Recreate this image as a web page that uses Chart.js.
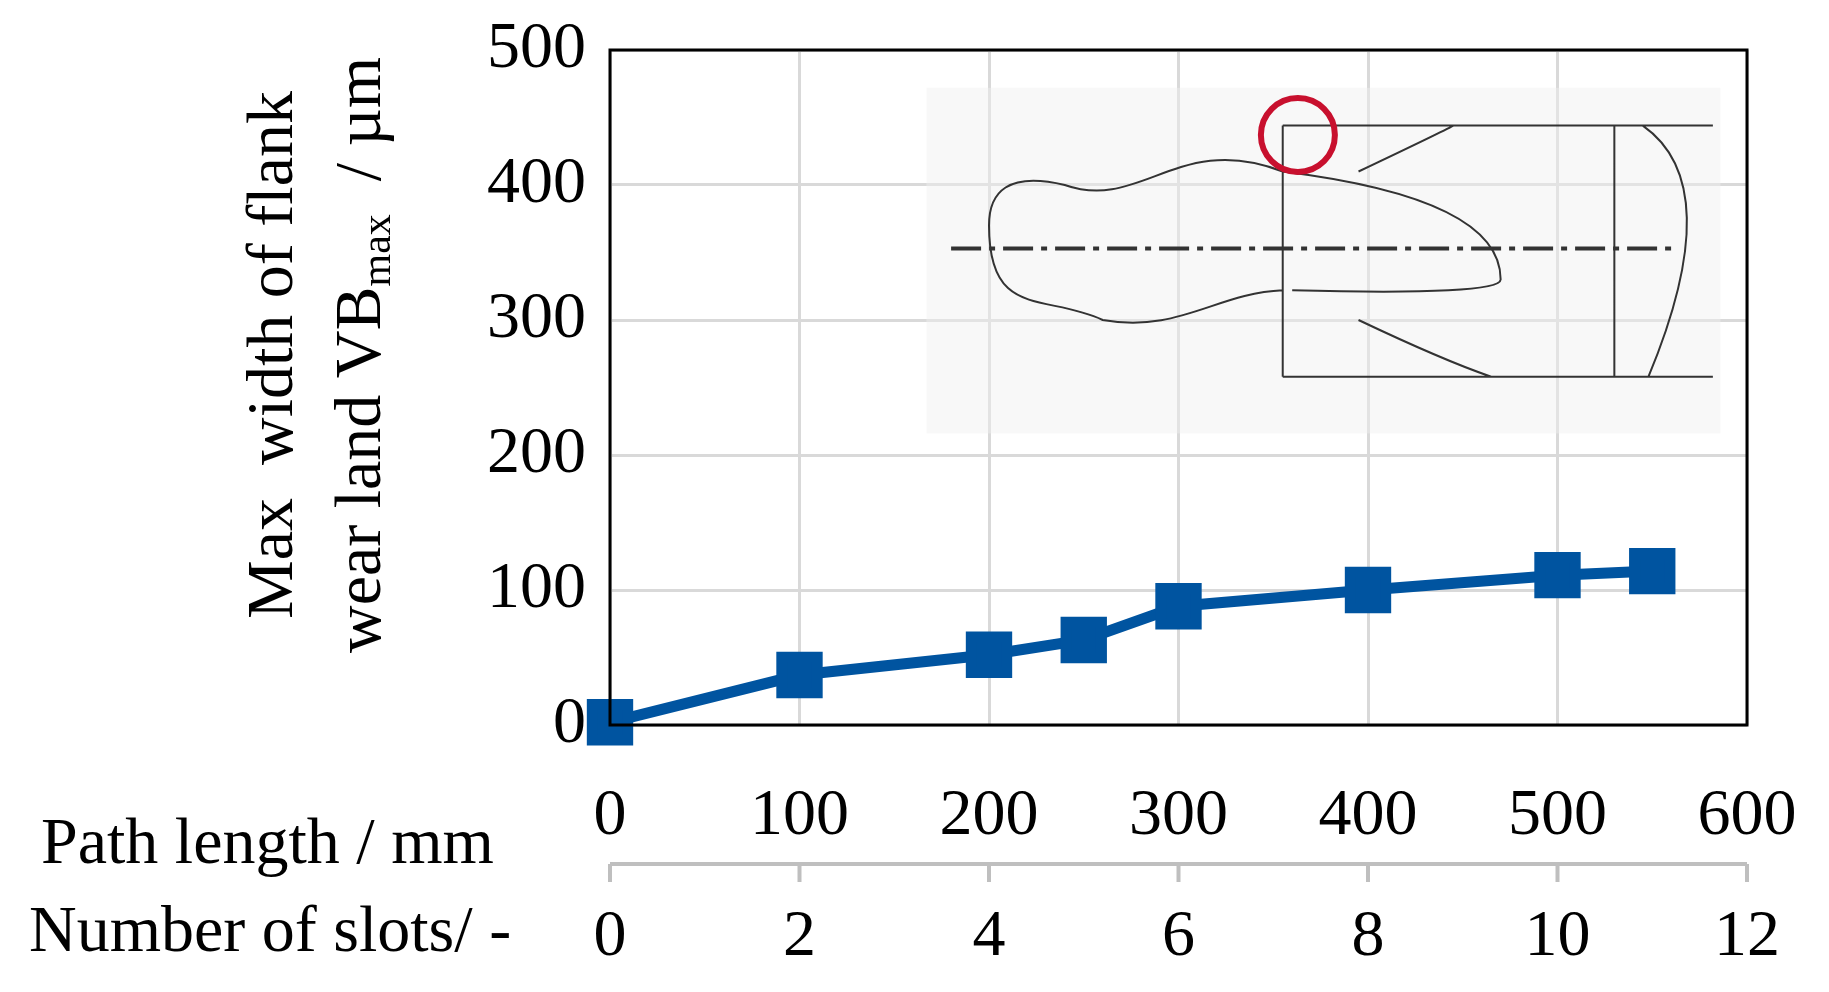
<!DOCTYPE html>
<html><head><meta charset="utf-8">
<script src="https://cdn.jsdelivr.net/npm/chart.js@4"></script>
<style>html,body{margin:0;padding:0;background:#fff}#w{width:1829px;height:992px}</style>
</head><body><div id="w"><canvas id="c"></canvas></div>
<script>
const pathLength = [0, 100, 200, 250, 300, 400, 500, 550];
const vbMax = [2, 37, 52, 63, 88, 100, 111, 114];
const slotTicks = [0, 2, 4, 6, 8, 10, 12];
const mmPerSlot = 50;
const FONT = '"Liberation Serif", "Times New Roman", serif';
const FS = 66;

const deco = {
  id: 'deco',
  beforeDatasetsDraw(ch) {
    const {ctx, chartArea: a, scales: {x, y}} = ch;
    const X = v => x.getPixelForValue(v), Y = v => y.getPixelForValue(v);
    ctx.save();
    ctx.fillStyle = 'rgba(240,240,240,0.45)';
    ctx.fillRect(X(167), Y(472), X(586) - X(167), Y(216) - Y(472));
    ctx.strokeStyle = '#333'; ctx.lineWidth = 2;
    ctx.beginPath();
    ctx.moveTo(X(355), Y(444)); ctx.lineTo(X(582), Y(444));
    ctx.moveTo(X(355), Y(258)); ctx.lineTo(X(582), Y(258));
    ctx.moveTo(X(355), Y(444)); ctx.lineTo(X(355), Y(258));
    ctx.moveTo(X(530), Y(444)); ctx.lineTo(X(530), Y(258));
    ctx.moveTo(X(545), Y(444)); ctx.quadraticCurveTo(X(590), Y(400), X(548), Y(258));
    ctx.moveTo(X(355), Y(410)); ctx.quadraticCurveTo(X(470), Y(390), X(470), Y(330));
    ctx.quadraticCurveTo(X(470), Y(318), X(360), Y(322));
    ctx.moveTo(X(355), Y(410)); ctx.bezierCurveTo(X(300), Y(440), X(280), Y(380), X(240), Y(400));
    ctx.bezierCurveTo(X(210), Y(410), X(200), Y(395), X(200), Y(370));
    ctx.bezierCurveTo(X(200), Y(300), X(230), Y(320), X(260), Y(300));
    ctx.bezierCurveTo(X(300), Y(290), X(320), Y(320), X(355), Y(322));
    ctx.moveTo(X(395), Y(410)); ctx.quadraticCurveTo(X(440), Y(440), X(445), Y(444));
    ctx.moveTo(X(395), Y(300)); ctx.quadraticCurveTo(X(440), Y(270), X(465), Y(258));
    ctx.stroke();
    ctx.lineWidth = 4;
    ctx.setLineDash([30, 8, 6, 8]);
    ctx.beginPath(); ctx.moveTo(X(180), Y(353)); ctx.lineTo(X(560), Y(353)); ctx.stroke();
    ctx.setLineDash([]);
    ctx.strokeStyle = '#c8102e'; ctx.lineWidth = 6;
    ctx.beginPath(); ctx.arc(X(363), Y(437), 37, 0, 2 * Math.PI); ctx.stroke();
    ctx.restore();
  },
  afterDraw(ch) {
    const {ctx, chartArea: a, scales: {x}} = ch;
    ctx.save();
    ctx.strokeStyle = '#000'; ctx.lineWidth = 3;
    ctx.strokeRect(a.left, a.top, a.right - a.left, a.bottom - a.top);
    const ly = 864;
    ctx.strokeStyle = '#bfbfbf'; ctx.lineWidth = 4;
    ctx.beginPath(); ctx.moveTo(a.left, ly); ctx.lineTo(a.right, ly);
    slotTicks.forEach(s => { const px = x.getPixelForValue(s * mmPerSlot); ctx.moveTo(px, ly); ctx.lineTo(px, ly + 18); });
    ctx.stroke();
    ctx.fillStyle = '#000'; ctx.font = FS + 'px ' + FONT; ctx.textAlign = 'center'; ctx.textBaseline = 'middle';
    slotTicks.forEach(s => ctx.fillText(String(s), x.getPixelForValue(s * mmPerSlot), 938));
    ctx.textAlign = 'left';
    ctx.fillText('Path length / mm', 41, 846);
    ctx.fillText('Number of slots/ -', 29, 934);
    ctx.translate(275, 355); ctx.rotate(-Math.PI / 2); ctx.textAlign = 'center';
    ctx.fillText('Max  width of flank', 0, 0);
    ctx.rotate(Math.PI / 2); ctx.translate(-275, -355);
    ctx.translate(363, 355); ctx.rotate(-Math.PI / 2);
    const t1 = 'wear land VB', t2 = 'max', t3 = '  / µm';
    ctx.font = FS + 'px ' + FONT; const w1 = ctx.measureText(t1).width, w3 = ctx.measureText(t3).width;
    ctx.font = '42px ' + FONT; const w2 = ctx.measureText(t2).width;
    let s = -(w1 + w2 + w3) / 2;
    ctx.textAlign = 'left'; ctx.font = FS + 'px ' + FONT; ctx.fillText(t1, s, 0); s += w1;
    ctx.font = '42px ' + FONT; ctx.fillText(t2, s, 16); s += w2;
    ctx.font = FS + 'px ' + FONT; ctx.fillText(t3, s, 0);
    ctx.restore();
  }
};

new Chart(document.getElementById('c'), {
  type: 'line',
  data: { datasets: [{
    data: pathLength.map((v, i) => ({x: v, y: vbMax[i]})),
    borderColor: '#0054a0', backgroundColor: '#0054a0', borderWidth: 11,
    pointStyle: 'rect', pointRadius: 25, pointHoverRadius: 25, tension: 0, clip: false
  }]},
  options: {
    responsive: true, maintainAspectRatio: false, animation: false,
    layout: { padding: { left: 0, top: 50, right: 82, bottom: 0 } },
    plugins: { legend: { display: false }, tooltip: { enabled: false } },
    scales: {
      x: { type: 'linear', min: 0, max: 600,
        ticks: { stepSize: 100, color: '#000', font: { family: FONT, size: FS }, padding: 52, maxRotation: 0 },
        grid: { color: '#d9d9d9', lineWidth: 3, drawTicks: false }, border: { display: false },
        afterFit: s => { s.height = 267; s.paddingLeft = 0; s.paddingRight = 0; } },
      y: { min: 0, max: 500,
        ticks: { stepSize: 100, color: '#000', font: { family: FONT, size: FS }, padding: 24 },
        grid: { color: '#d9d9d9', lineWidth: 3, drawTicks: false }, border: { display: false },
        afterFit: s => { s.width = 610; s.paddingTop = 0; s.paddingBottom = 0; } }
    }
  },
  plugins: [deco]
});
</script></body></html>
